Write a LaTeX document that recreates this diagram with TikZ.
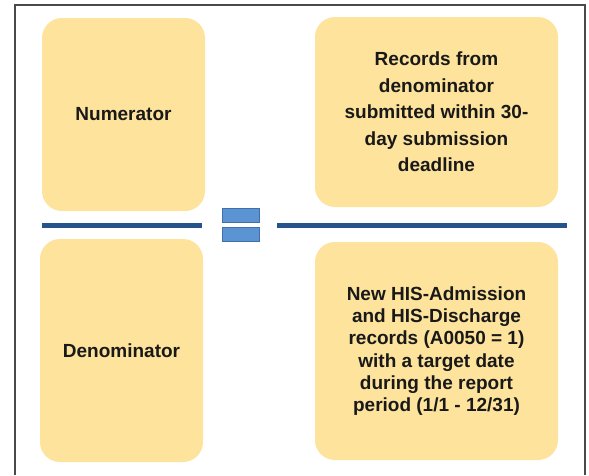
\documentclass[tikz,border=0pt]{standalone}
\usepackage{fontspec}
\setmainfont{Liberation Sans}
\definecolor{boxfill}{HTML}{FDE39B}
\definecolor{barblue}{HTML}{24548A}
\definecolor{eqfill}{HTML}{5B93D3}
\definecolor{eqline}{HTML}{3F70A8}
\definecolor{frame}{HTML}{4A4A4A}
\tikzset{
  yellowbox/.style={draw=none, fill=boxfill, rounded corners=20pt, align=center,
    inner sep=0pt, font=\bfseries\fontsize{19}{22.2}\selectfont, text=black!90},
  bar/.style={draw=barblue, line width=5pt},
  eqbar/.style={draw=eqline, fill=eqfill, line width=0.8pt},
  frameline/.style={draw=frame, line width=2pt}
}
\begin{document}
\begin{tikzpicture}[x=1pt,y=-1pt]
\useasboundingbox (0,0) rectangle (589,475);
\fill[white] (0,0) rectangle (589,475);
\draw[frameline] (15,475) -- (15,4.5) -- (585,4.5) -- (585,475);

\node[yellowbox, minimum width=163pt, minimum height=193pt] (num) at (123.5,114.5) {Numerator};
\node[yellowbox, minimum width=243pt, minimum height=190pt,
  font=\bfseries\fontsize{19}{26.6}\selectfont] (rec) at (436.5,112)
  {Records from\\denominator\\submitted within 30-\\day submission\\deadline};
\node[yellowbox, minimum width=163pt, minimum height=223pt] (den) at (121.5,350.5) {Denominator};
\node[yellowbox, minimum width=243pt, minimum height=218pt] (his) at (436.5,351)
  {New HIS-Admission\\and HIS-Discharge\\records (A0050 = 1)\\with a target date\\during the report\\period (1/1 - 12/31)};

\coordinate (l1) at (42,225.5);
\coordinate (l2) at (202,225.5);
\coordinate (r1) at (277,225.5);
\coordinate (r2) at (567,225.5);
\draw[bar] (l1) -- (l2);
\draw[bar] (r1) -- (r2);

\path[eqbar] (222.5,208) rectangle (259,222) coordinate (eqtop);
\path[eqbar] (222.5,227) rectangle (259,241) coordinate (eqbot);
\end{tikzpicture}
\end{document}
